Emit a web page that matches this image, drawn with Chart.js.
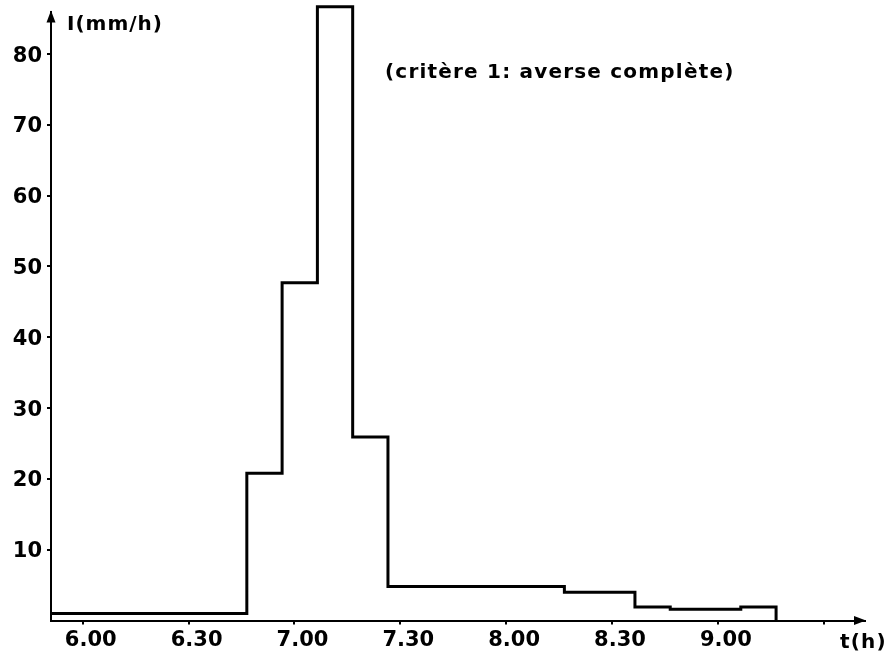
<!DOCTYPE html>
<html><head><meta charset="utf-8">
<script src="https://cdn.jsdelivr.net/npm/chart.js@4"></script>
<style>html,body{margin:0;padding:0;background:#fff}</style>
</head><body>
<canvas id="c" width="889" height="658"></canvas>
<script>
// time of each step start, minutes since midnight
const stepStarts = [351, 406.5, 416.5, 426.5, 436.5, 446.5, 496.5, 516.5, 526.5, 546.5, 556.5];
// rainfall intensity (mm/h) held from each step start
const intensity = [1.0, 20.8, 47.7, 86.7, 25.9, 4.8, 4.0, 1.9, 1.6, 1.9, 0];
const xTickValues = [360, 390, 420, 450, 480, 510, 540, 570];
const xTickLabels = ['6.00', '6.30', '7.00', '7.30', '8.00', '8.30', '9.00', ''];
const yTickValues = [10, 20, 30, 40, 50, 60, 70, 80];
const yAxisTitle = 'I(mm/h)';
const xAxisTitle = 't(h)';
const noteText = '(critère 1: averse complète)';

Chart.defaults.font.family = "'DejaVu Sans', sans-serif";
Chart.defaults.color = '#000';

const annotations = {
  id: 'annotations',
  afterDraw(chart) {
    const ctx = chart.ctx;
    const ca = chart.chartArea;
    ctx.save();
    ctx.fillStyle = '#000';
    // arrowheads
    ctx.beginPath();
    ctx.moveTo(ca.left, ca.top - 1);
    ctx.lineTo(ca.left - 4.5, ca.top + 11);
    ctx.lineTo(ca.left + 4.5, ca.top + 11);
    ctx.closePath();
    ctx.fill();
    ctx.beginPath();
    ctx.moveTo(ca.right + 1, ca.bottom);
    ctx.lineTo(ca.right - 11, ca.bottom - 4.5);
    ctx.lineTo(ca.right - 11, ca.bottom + 4.5);
    ctx.closePath();
    ctx.fill();
    // texts
    ctx.textBaseline = 'middle';
    ctx.textAlign = 'left';
    ctx.font = "bold 20px 'DejaVu Sans'";
    ctx.letterSpacing = '1px';
    ctx.fillText(yAxisTitle, 67, 25);
    ctx.letterSpacing = '1.2px';
    ctx.fillText(noteText, 385, 73);
    ctx.fillText(xAxisTitle, 840, 643);
    ctx.restore();
  }
};

new Chart(document.getElementById('c'), {
  type: 'line',
  data: {
    datasets: [{
      data: stepStarts.map((t, i) => ({x: t, y: intensity[i]})),
      stepped: 'before',
      borderColor: '#000',
      borderWidth: 3,
      pointRadius: 0,
      fill: false,
      clip: false
    }]
  },
  options: {
    responsive: false,
    animation: false,
    devicePixelRatio: 1,
    layout: {padding: {top: 11.6, right: 24, left: 0, bottom: 0}},
    plugins: {legend: {display: false}, tooltip: {enabled: false}},
    scales: {
      x: {
        type: 'linear',
        min: 351,
        max: 581.7,
        afterBuildTicks: s => { s.ticks = xTickValues.map(v => ({value: v})); },
        afterFit: s => { s.height = 37.5; s.paddingLeft = 0; s.paddingRight = 0; },
        ticks: {
          callback: (v, i) => xTickLabels[i],
          font: {size: 21, weight: 'bold'},
          padding: 3,
          labelOffset: 8,
          maxRotation: 0,
          autoSkip: false
        },
        grid: {drawOnChartArea: false, tickLength: 4, color: '#000', lineWidth: 2},
        border: {color: '#000', width: 2}
      },
      y: {
        min: 0,
        max: 86,
        afterBuildTicks: s => { s.ticks = yTickValues.map(v => ({value: v})); },
        afterFit: s => { s.width = 51; s.paddingTop = 0; s.paddingBottom = 0; },
        ticks: {
          callback: v => String(v),
          font: {size: 21, weight: 'bold'},
          padding: 5,
          labelOffset: 2
        },
        grid: {drawOnChartArea: false, tickLength: 4, color: '#000', lineWidth: 2},
        border: {color: '#000', width: 2}
      }
    }
  },
  plugins: [annotations]
});
</script>
</body></html>
